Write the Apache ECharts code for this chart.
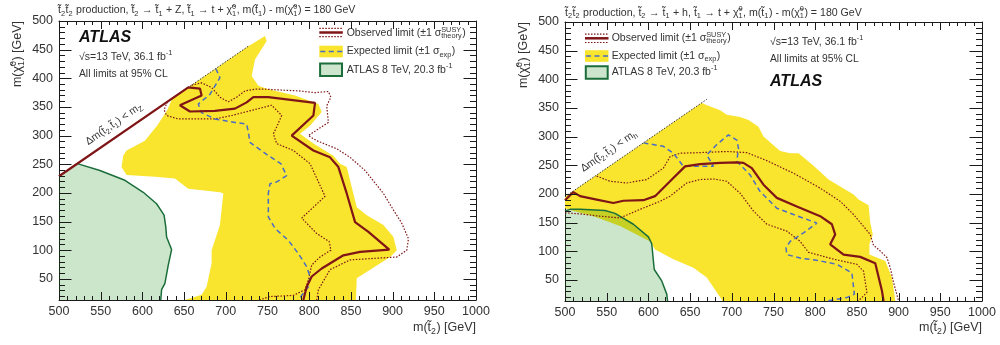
<!DOCTYPE html>
<html>
<head>
<meta charset="utf-8">
<script src="https://cdn.jsdelivr.net/npm/echarts@6.0.0/dist/echarts.min.js"></script>
<style>
  html, body { margin: 0; padding: 0; background: #fff; }
  #chart { width: 1000px; height: 345px; }
</style>
</head>
<body>
<div id="chart"></div>
<script>
const FONT = '"Liberation Sans", Arial, Helvetica, sans-serif';

// axis ranges and ticks
const X_MIN = 500, X_MAX = 1000, Y_MIN = 13, Y_MAX = 500;
const xMajor = [500, 550, 600, 650, 700, 750, 800, 850, 900, 950, 1000];
const yMajor = [50, 100, 150, 200, 250, 300, 350, 400, 450, 500];
const xMinor = [], yMinor = [];
for (let v = 510; v < 1000; v += 10) if (v % 50) xMinor.push(v);
for (let v = 20; v < 500; v += 10) if (v % 50) yMinor.push(v);

// left panel: t2 -> t1 + Z
const leftYellow = [[651,13],[671,22],[677,36],[683,77],[683,100],[693,144],[697,199],[693,201],[655,207],[639,225],[615,228],[581,231],[575,245],[577,265],[581,274],[603,291],[618,318],[630,345],[636,365],[727,456],[747,474],[749,465],[735,433],[731,404],[739,387],[751,381],[783,370],[811,355],[815,341],[801,317],[789,303],[805,286],[829,265],[837,251],[845,245],[857,175],[869,161],[889,144],[901,123],[905,100],[897,88],[857,51],[856,13]];
const leftGreen = [[500,229],[522,251],[549,239],[579,222],[601,201],[617,181],[626,161],[628,141],[629,123],[635,101],[631,74],[627,42],[623,31],[622,13]];
const leftObs = [[500,229],[655,384],[669,382],[671,370],[645,353],[657,342],[687,343],[711,347],[725,358],[733,367],[751,367],[807,357],[805,335],[779,300],[805,274],[825,262],[835,245],[845,199],[855,149],[871,132],[896,101],[861,97],[841,91],[815,68],[803,54],[797,36],[793,13]];
const leftObsUp = [[659,388],[671,392],[683,384],[693,367],[703,359],[713,367],[723,378],[735,381],[747,381],[759,380],[787,378],[807,375],[823,377],[826,367],[821,352],[823,323],[799,300],[809,291],[833,277],[849,262],[867,239],[889,199],[901,170],[911,147],[919,120],[917,100],[905,88],[881,86],[849,83],[825,66],[811,31],[809,13]];
const leftObsDown = [[630,359],[626,345],[629,335],[643,329],[667,329],[687,329],[707,335],[731,344],[755,353],[767,335],[761,315],[757,303],[761,286],[781,274],[801,251],[819,194],[791,156],[809,129],[824,115],[826,100],[813,88],[803,74],[799,48],[795,31],[781,21],[753,19],[740,13]];
const leftExp = [[688,417],[693,401],[681,372],[667,355],[671,340],[687,329],[711,323],[725,320],[727,306],[729,288],[751,265],[766,251],[773,230],[761,219],[753,216],[751,199],[751,158],[759,138],[775,117],[787,94],[797,71],[801,54],[799,36],[793,25],[787,13]];
const leftKin = [[500,229],[727,456]];

// right panel: t2 -> t1 + h
const rightYellow = [[500,175],[500,195],[664,359],[668,356],[686,346],[694,338],[710,334],[720,329],[732,317],[738,300],[750,285],[758,275],[770,271],[780,271],[798,249],[816,225],[846,199],[852,190],[864,180],[866,150],[869,129],[865,112],[865,94],[884,83],[892,54],[896,13],[689,13],[670,54],[654,71],[630,86],[608,103],[602,117],[566,144],[534,161],[506,172]];
const rightGreen = [[500,170],[506,173],[518,173],[548,171],[560,166],[582,147],[600,125],[604,113],[607,68],[616,48],[622,25],[623,13]];
const rightObs = [[500,189],[510,203],[518,196],[538,190],[558,184],[570,188],[594,189],[608,196],[626,222],[644,248],[662,252],[686,254],[706,255],[714,254],[724,245],[738,216],[754,193],[778,178],[806,161],[820,147],[824,129],[818,112],[834,94],[854,90],[872,79],[880,31],[882,13]];
const rightObsUp = [[538,231],[554,222],[574,219],[598,225],[618,245],[626,265],[638,271],[662,272],[694,274],[718,272],[742,258],[774,236],[806,210],[830,187],[846,164],[866,129],[870,110],[876,103],[886,89],[890,71],[894,45],[900,13]];
const rightObsDown = [[500,167],[518,165],[542,161],[566,158],[590,173],[614,187],[626,196],[646,219],[662,225],[678,226],[694,222],[710,201],[726,170],[742,147],[766,135],[782,117],[792,98],[822,86],[850,77],[858,65],[862,28],[856,19],[851,13]];
const rightExp = [[594,289],[618,283],[630,271],[642,248],[662,248],[678,248],[670,268],[682,286],[696,303],[706,294],[708,280],[706,257],[722,233],[734,204],[754,175],[774,164],[802,149],[786,132],[770,117],[765,106],[766,94],[782,88],[806,83],[826,77],[844,62],[847,25],[838,19],[814,13]];
const rightKin = [[500,195],[670,365]];

const YELLOW = '#f9e42e';
const GREEN_FILL = 'rgba(0,128,0,0.2)';
const GREEN_LINE = '#1b6e3a';
const OBS = '#7f1517';
const EXP = '#4a6cc4';
const TXT = '#333';
const AXIS = '#1a1a1a';

// text with sub/superscripts: _{..} and ^{..}, consecutive ones are stacked
const mctx = document.createElement('canvas').getContext('2d');
const fontStr = (size, weight, style) => `${style || 'normal'} ${weight || 'normal'} ${size}px ${FONT}`;
const tw = (s, f) => { mctx.font = f; return mctx.measureText(s).width; };

function mathText(str, x, y, size, o = {}) {
    const toks = [];
    const re = /([_^])\{([^}]*)\}/g;
    let last = 0, m;
    while ((m = re.exec(str))) {
        if (m.index > last) toks.push({ k: 'n', s: str.slice(last, m.index) });
        toks.push({ k: m[1] === '^' ? 'sup' : 'sub', s: m[2] });
        last = re.lastIndex;
    }
    if (last < str.length) toks.push({ k: 'n', s: str.slice(last) });

    const fMain = fontStr(size, o.weight, o.style);
    const fSmall = fontStr(size * 0.7, o.weight, o.style);
    const fill = o.color || TXT;
    const parts = [];
    const put = (s, px, py, f) => parts.push({
        type: 'text', x: px, y: py, silent: true,
        style: { text: s, font: f, fill, align: 'left', verticalAlign: 'middle', textAlign: 'left', textVerticalAlign: 'middle' }
    });
    const dy = k => (k === 'sup' ? -0.36 : 0.3) * size;
    let cx = 0;
    for (let i = 0; i < toks.length; i++) {
        const t = toks[i];
        if (t.k === 'n') { put(t.s, cx, 0, fMain); cx += tw(t.s, fMain); continue; }
        put(t.s, cx, dy(t.k), fSmall);
        let w = tw(t.s, fSmall);
        const nx = toks[i + 1];
        if (nx && nx.k !== 'n' && nx.k !== t.k) {
            put(nx.s, cx, dy(nx.k), fSmall);
            w = Math.max(w, tw(nx.s, fSmall));
            i++;
        }
        cx += w + 0.5;
    }
    const shift = o.align === 'right' ? -cx : o.align === 'center' ? -cx / 2 : 0;
    parts.forEach(p => { p.x += shift; });
    return { type: 'group', x, y, rotation: o.rotation || 0, silent: true, children: parts };
}

// axes: frame lines and labels; ticks are drawn by the tick series below
const axisLine = { show: true, onZero: false, lineStyle: { color: AXIS, width: 1 } };
function xAxes(g) {
    const base = {
        type: 'value', gridIndex: g, min: X_MIN, max: X_MAX, interval: 50,
        splitLine: { show: false }, axisLine, axisTick: { show: false }, minorTick: { show: false }
    };
    return [
        { ...base, position: 'bottom',
          axisLabel: { show: true, fontFamily: FONT, fontSize: 12.5, color: TXT, margin: 5, formatter: v => String(v) } },
        { ...base, position: 'top', axisLabel: { show: false } }
    ];
}
function yAxes(g) {
    const base = { type: 'value', gridIndex: g, min: Y_MIN, max: Y_MAX, splitLine: { show: false }, axisLine, axisTick: { show: false } };
    return [
        { ...base, position: 'left',
          axisLabel: { show: true, customValues: yMajor, fontFamily: FONT, fontSize: 12.5, color: TXT, margin: 6, formatter: v => String(v) } },
        { ...base, position: 'right', axisLabel: { show: false } }
    ];
}

// ROOT-style inward ticks on all four sides, placed through the axis scales
function tickSeries(g) {
    return {
        type: 'custom', xAxisIndex: g * 2, yAxisIndex: g * 2, clip: false, silent: true, z: 20,
        data: [[X_MIN, Y_MIN]],
        renderItem: (params, api) => {
            const kids = [];
            const seg = (x1, y1, x2, y2) => kids.push({
                type: 'line', shape: { x1, y1, x2, y2 }, style: { stroke: AXIS, lineWidth: 1 }
            });
            const crisp = v => Math.round(v) + 0.5;
            const left = api.coord([X_MIN, Y_MIN])[0], right = api.coord([X_MAX, Y_MIN])[0];
            const bottom = api.coord([X_MIN, Y_MIN])[1], top = api.coord([X_MIN, Y_MAX])[1];
            const xt = (v, len) => { const px = crisp(api.coord([v, Y_MIN])[0]); seg(px, bottom, px, bottom - len); seg(px, top, px, top + len); };
            const yt = (v, len) => { const py = crisp(api.coord([X_MIN, v])[1]); seg(left, py, left + len, py); seg(right, py, right - len, py); };
            xMajor.forEach(v => xt(v, 8));
            xMinor.forEach(v => xt(v, 4));
            yMajor.forEach(v => yt(v, 12.5));
            yMinor.forEach(v => yt(v, 6));
            return { type: 'group', children: kids };
        }
    };
}

// series builders
function polygon(pts, g, fill, z) {
    return {
        type: 'custom', xAxisIndex: g * 2, yAxisIndex: g * 2, clip: true, silent: true, z,
        data: [[X_MIN, Y_MIN]],
        renderItem: (params, api) => ({
            type: 'polygon',
            shape: { points: pts.map(p => api.coord(p)) },
            style: { fill }
        })
    };
}
function curve(pts, g, color, width, type, z) {
    return {
        type: 'line', xAxisIndex: g * 2, yAxisIndex: g * 2, data: pts, z,
        symbol: 'none', showSymbol: false, silent: true, clip: true,
        lineStyle: { color, width, type }
    };
}
function panelSeries(g, d) {
    return [
        polygon(d.yellow, g, YELLOW, 1),
        polygon(d.green.concat([[X_MIN, Y_MIN]]), g, GREEN_FILL, 2),
        curve(d.green, g, GREEN_LINE, 1.5, 'solid', 3),
        curve(d.kin, g, '#333', 1, [1.5, 1.5], 3),
        curve(d.up, g, OBS, 1.2, [1.5, 1.6], 4),
        curve(d.down, g, OBS, 1.2, [1.5, 1.6], 4),
        curve(d.exp, g, EXP, 1.5, [5, 3.5], 5),
        curve(d.obs, g, OBS, 2.2, 'solid', 6),
        tickSeries(g)
    ];
}

// legend symbols (drawn as graphics)
function legendBox(x, y1, y2, y3) {
    const w = 23.5;
    return [
        { type: 'line', silent: true, shape: { x1: x, y1: y1 - 4.2, x2: x + w, y2: y1 - 4.2 }, style: { stroke: OBS, lineWidth: 1.2, lineDash: [1.5, 1.5] } },
        { type: 'line', silent: true, shape: { x1: x, y1: y1 + 4.2, x2: x + w, y2: y1 + 4.2 }, style: { stroke: OBS, lineWidth: 1.2, lineDash: [1.5, 1.5] } },
        { type: 'line', silent: true, shape: { x1: x, y1: y1, x2: x + w, y2: y1 }, style: { stroke: OBS, lineWidth: 2.5 } },
        { type: 'rect', silent: true, shape: { x, y: y2 - 5.8, width: w, height: 11.6 }, style: { fill: YELLOW } },
        { type: 'line', silent: true, shape: { x1: x + 1, y1: y2, x2: x + w, y2: y2 }, style: { stroke: EXP, lineWidth: 1.5, lineDash: [5, 3.5] } },
        { type: 'rect', silent: true, shape: { x: x + 0.8, y: y3 - 6, width: w - 1.6, height: 12.5 }, style: { fill: '#cce5cc', stroke: GREEN_LINE, lineWidth: 2 } }
    ];
}
function legendText(x, y1, y2, y3) {
    return [
        mathText('Observed limit (±1 σ^{SUSY}_{theory})', x, y1, 10.5),
        mathText('Expected limit (±1 σ_{exp})', x, y2, 10.5),
        mathText('ATLAS 8 TeV, 20.3 fb^{-1}', x, y3, 10.5)
    ];
}

const ANG = 0.604;
const T = 't\u0303', CHI = 'χ\u0303^{0}_{1}';

const graphics = [
    // titles
    mathText(`${T}_{2}${T}_{2} production, ${T}_{2} → ${T}_{1} + Z, ${T}_{1} → t + ${CHI}, m(${T}_{1}) - m(${CHI}) = 180 GeV`, 58, 10.5, 10.6),
    mathText(`${T}_{2}${T}_{2} production, ${T}_{2} → ${T}_{1} + h, ${T}_{1} → t + ${CHI}, m(${T}_{1}) - m(${CHI}) = 180 GeV`, 565, 13, 10.6),
    // axis titles
    mathText(`m(${CHI}) [GeV]`, 18, 21, 12.5, { align: 'right', rotation: Math.PI / 2 }),
    mathText(`m(${CHI}) [GeV]`, 524, 22, 12.5, { align: 'right', rotation: Math.PI / 2 }),
    mathText(`m(${T}_{2}) [GeV]`, 476, 328, 12.5, { align: 'right' }),
    mathText(`m(${T}_{2}) [GeV]`, 982, 328, 12.5, { align: 'right' }),
    // left annotations
    mathText('ATLAS', 79, 37.5, 16, { weight: 'bold', style: 'italic', color: '#111' }),
    mathText('√s=13 TeV, 36.1 fb^{-1}', 79, 57, 10.5),
    mathText('All limits at 95% CL', 79, 74, 10.3),
    mathText(`Δm(${T}_{2},${T}_{1}) < m_{Z}`, 114, 124, 10.5, { align: 'center', rotation: ANG }),
    // right annotations
    mathText('√s=13 TeV, 36.1 fb^{-1}', 770, 42, 10.5),
    mathText('All limits at 95% CL', 770, 59, 10.3),
    mathText('ATLAS', 770, 81.7, 16, { weight: 'bold', style: 'italic', color: '#111' }),
    mathText(`Δm(${T}_{2},${T}_{1}) < m_{h}`, 609, 151, 10.5, { align: 'center', rotation: ANG }),
    ...legendBox(319.3, 32.5, 51.5, 69.5),
    ...legendText(346.7, 33.3, 51.5, 70),
    ...legendBox(585, 38.3, 56, 72.3),
    ...legendText(611.7, 38.3, 56, 71.7)
];

const chart = echarts.init(document.getElementById('chart'), null, { renderer: 'canvas' });
chart.setOption({
    animation: false,
    backgroundColor: '#fff',
    grid: [
        { left: 59, top: 21, width: 417, height: 279 },
        { left: 565, top: 22, width: 417, height: 279 }
    ],
    xAxis: [...xAxes(0), ...xAxes(1)],
    yAxis: [...yAxes(0), ...yAxes(1)],
    series: [
        ...panelSeries(0, { yellow: leftYellow, green: leftGreen, kin: leftKin, up: leftObsUp, down: leftObsDown, exp: leftExp, obs: leftObs }),
        ...panelSeries(1, { yellow: rightYellow, green: rightGreen, kin: rightKin, up: rightObsUp, down: rightObsDown, exp: rightExp, obs: rightObs })
    ],
    graphic: graphics
});
</script>
</body>
</html>
